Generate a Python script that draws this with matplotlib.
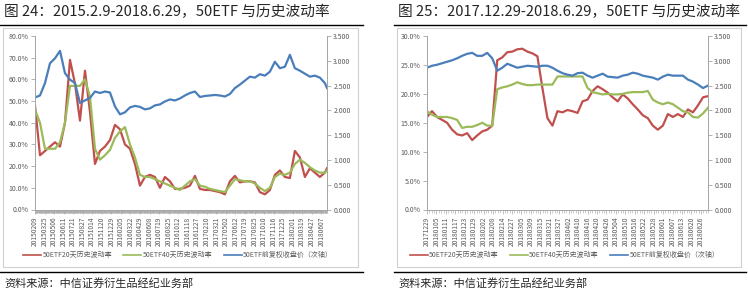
import numpy as np
import matplotlib
matplotlib.use('Agg')
import matplotlib.pyplot as plt
from matplotlib.patches import Rectangle
from matplotlib.lines import Line2D
from matplotlib.ticker import FixedLocator, MultipleLocator, FuncFormatter

plt.rcParams['font.family'] = ['Noto Sans CJK SC', 'DejaVu Sans']

# 1 - Data

# left chart: 2015.2.9 - 2018.6.29, values in % (HV) and price (secondary axis)
hv20_left = [48, 25, 27, 29, 31, 29, 40, 69, 58, 41, 64, 45, 21, 27, 29, 32, 39, 37, 30, 28,
             21, 11, 15, 16, 15, 10, 15, 13, 9.5, 9.5, 10, 11, 15.5, 9.5, 9, 9, 8.5, 8, 7, 13,
             15.5, 12.5, 13, 13, 12.5, 8, 7, 9, 16, 18, 15, 14.5, 27, 24, 15, 19, 17, 15, 17, 19]
hv40_left = [46, 40, 28, 28, 28, 31, 40, 57, 57, 57, 60, 52, 28, 23, 25, 27.5, 33, 36, 38, 30,
             24, 16, 15, 15, 14, 13, 12, 11, 10, 9, 11, 13, 14, 11, 10.5, 9.5, 9, 8.5, 8, 11,
             14, 13.5, 13, 13, 12, 10, 8.5, 10, 15, 16.5, 16, 17, 21, 23, 21.5, 19.5, 18, 17, 17, 18]
price_left = [2.26, 2.30, 2.55, 2.95, 3.05, 3.20, 2.75, 2.62, 2.55, 2.15, 2.20, 2.25, 2.38, 2.35,
              2.38, 2.36, 2.08, 1.92, 1.96, 2.06, 2.09, 2.07, 2.02, 2.04, 2.10, 2.12, 2.18, 2.22,
              2.20, 2.24, 2.30, 2.35, 2.38, 2.27, 2.29, 2.30, 2.31, 2.30, 2.28, 2.33, 2.45, 2.52,
              2.60, 2.68, 2.66, 2.73, 2.70, 2.78, 2.98, 2.85, 2.88, 3.12, 2.85, 2.80, 2.74, 2.68,
              2.70, 2.66, 2.55, 2.45]
ticks_left = ['20150209', '20150325', '20150506', '20150611', '20150721', '20150827', '20151014',
              '20151120', '20151229', '20160205', '20160322', '20160429', '20160608', '20160719',
              '20160825', '20161012', '20161118', '20161227', '20170210', '20170321', '20170502',
              '20170612', '20170719', '20170825', '20171010', '20171116', '20171225', '20180201',
              '20180319', '20180427', '20180607']

# right chart: 2017.12.29 - 2018.6.29
hv20_right = [16, 17, 16, 15.5, 15, 13.8, 13, 12.8, 13.2, 12, 12.8, 13.5, 13.8, 14.5, 25.8, 26.3,
              27.2, 27.3, 27.7, 27.8, 27.3, 27, 26.5, 21, 15.8, 14.5, 17, 16.8, 17.2, 17, 16.7,
              18.7, 19, 20.5, 21.3, 20.8, 20.2, 19.4, 18.7, 19.9, 19.2, 18.2, 17.3, 16.3, 15.8,
              14.5, 13.8, 14.5, 16.5, 16, 16.5, 16, 17.3, 16.8, 18, 19.4, 19.6]
hv40_right = [17, 16.4, 16, 16, 16, 15.8, 15.5, 14.1, 14.3, 14.3, 14.6, 15, 14.5, 14.5, 20.8, 21.1,
              21.3, 21.6, 22, 21.7, 21.5, 21.5, 21.6, 21.6, 21.6, 21.6, 23, 23, 23, 23, 23, 23,
              21, 20.3, 20.1, 19.9, 20, 19.9, 19.9, 20, 20.2, 20.3, 20.3, 20.3, 20.5, 19, 18.5,
              18.2, 18.5, 18.2, 17.6, 17, 16.8, 16, 15.9, 16.6, 17.6]
price_right = [2.86, 2.90, 2.92, 2.95, 2.98, 3.01, 3.05, 3.10, 3.14, 3.16, 3.10, 3.10, 3.16, 3.05,
               2.80, 2.86, 2.94, 2.90, 2.86, 2.88, 2.90, 2.89, 2.88, 2.90, 2.90, 2.86, 2.80, 2.75,
               2.72, 2.70, 2.75, 2.76, 2.70, 2.66, 2.70, 2.74, 2.68, 2.67, 2.66, 2.70, 2.72, 2.76,
               2.74, 2.70, 2.68, 2.66, 2.62, 2.68, 2.72, 2.70, 2.70, 2.70, 2.62, 2.58, 2.52, 2.45,
               2.50]
ticks_right = ['20171229', '20180105', '20180111', '20180117', '20180123', '20180129', '20180202',
               '20180208', '20180214', '20180227', '20180305', '20180309', '20180315', '20180321',
               '20180327', '20180402', '20180410', '20180416', '20180420', '20180426', '20180504',
               '20180510', '20180516', '20180522', '20180528', '20180601', '20180607', '20180613',
               '20180620', '20180626']

labels = ['50ETF20天历史波动率', '50ETF40天历史波动率', '50ETF前复权收盘价（次轴）']
red, green, blue = '#C0504D', '#9BBB59', '#4A7EBB'
grey_txt = '#595959'
grey_ax = '#A6A6A6'

# 2 - Figure

W, H = 748, 292
fig = plt.figure(figsize=(W / 100, H / 100), dpi=100)


def rect(x0, y0, x1, y1):
    # pixel box (from top-left) -> figure fraction
    return [x0 / W, 1 - y1 / H, (x1 - x0) / W, (y1 - y0) / H]


def panel(box, frame, title, xs, hv20, hv40, price, ticks, tick_step, ndays, ymax, ystep, fmt):
    ax = fig.add_axes(rect(*box))
    ax2 = ax.twinx()
    ax.plot(xs, hv20, color=red, lw=1.6)
    ax.plot(xs, hv40, color=green, lw=1.6)
    ax2.plot(xs, price, color=blue, lw=1.6)

    ax.set_xlim(0, ndays)
    ax.set_ylim(0, ymax)
    ax2.set_ylim(0, 3.5)
    ax.yaxis.set_major_locator(MultipleLocator(ystep))
    ax.yaxis.set_major_formatter(FuncFormatter(lambda v, p: fmt % v))
    ax2.yaxis.set_major_locator(MultipleLocator(0.5))
    ax2.yaxis.set_major_formatter(FuncFormatter(lambda v, p: '%.3f' % v))
    ax.xaxis.set_major_locator(FixedLocator(np.arange(len(ticks)) * tick_step))
    ax.set_xticklabels(ticks, rotation=90)
    ax.xaxis.set_minor_locator(MultipleLocator(1))

    for a in (ax, ax2):
        a.spines['top'].set_visible(False)
        for s in ('left', 'right', 'bottom'):
            a.spines[s].set_color(grey_ax)
            a.spines[s].set_linewidth(0.7)
        a.tick_params(axis='y', length=3, width=0.6, color=grey_ax, labelsize=5,
                      labelcolor=grey_txt, pad=1.5)
    ax.tick_params(axis='x', which='major', length=3, width=0.5, color=grey_ax, labelsize=4.8,
                   labelcolor=grey_txt, pad=2)
    ax.tick_params(axis='x', which='minor', length=2, width=0.4, color=grey_ax)

    # chart frame, title, rules and source
    fx0, fx1 = frame
    fig.add_artist(Rectangle((fx0 / W, 1 - 267 / H), (fx1 - fx0) / W, 239 / H,
                             transform=fig.transFigure, fill=False, ec='#D0D0D0', lw=0.8))
    fig.text((fx0 + 1) / W, 1 - 12 / H, title, fontsize=10.6, color='#262626', va='center')
    fig.add_artist(Line2D([(fx0 - 3) / W, (fx1 + 5) / W], [1 - 25 / H] * 2,
                          transform=fig.transFigure, color='black', lw=1.0))
    fig.add_artist(Line2D([(fx0 - 3) / W, (fx1 + 5) / W], [1 - 272 / H] * 2,
                          transform=fig.transFigure, color='black', lw=1.0))
    fig.text((fx0 + 1) / W, 1 - 283 / H, '资料来源：中信证券衍生品经纪业务部', fontsize=8,
             color='#262626', va='center')

    handles = [Line2D([], [], color=c, lw=1.2) for c in (red, green, blue)]
    fig.legend(handles, labels, loc='center', ncol=3, frameon=False, fontsize=5,
               labelcolor=grey_txt, handlelength=2.6, handletextpad=0.2, columnspacing=1.6,
               bbox_to_anchor=(((box[0] + box[2]) / 2 - 3) / W, 1 - 255 / H))


x_left = np.append(np.linspace(0, 820, len(hv20_left) - 1), 826)
x_right = np.linspace(0, 119, len(hv20_right))

panel((35, 36, 327, 209.5), (3, 358), '图 24：2015.2.9-2018.6.29，50ETF 与历史波动率',
      x_left, hv20_left, hv40_left, price_left, ticks_left, 27, 826, 80, 10, '%.1f%%')
panel((427, 36, 708, 209.5), (397, 741), '图 25：2017.12.29-2018.6.29，50ETF 与历史波动率',
      x_right, hv20_right, hv40_right, price_right, ticks_right, 4, 119, 30, 5, '%.1f%%')

fig.savefig('out.png', dpi=100)
